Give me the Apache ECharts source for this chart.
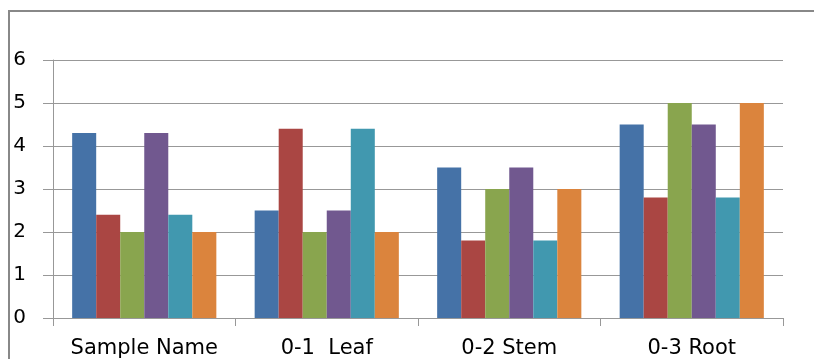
<!DOCTYPE html>
<html><head><meta charset="utf-8">
<script src="https://cdn.jsdelivr.net/npm/echarts@6/dist/echarts.min.js"></script>
<style>html,body{margin:0;padding:0;background:#fff}#c{width:814px;height:359px}</style>
</head><body><div id="c"></div>
<script>
const categories = ["Sample Name", "0-1  Leaf", "0-2 Stem", "0-3 Root"];
const s1 = [4.3, 2.5, 3.5, 4.5];
const s2 = [2.4, 4.4, 1.8, 2.8];
const s3 = [2.0, 2.0, 3.0, 5.0];
const s4 = [4.3, 2.5, 3.5, 4.5];
const s5 = [2.4, 4.4, 1.8, 2.8];
const s6 = [2.0, 2.0, 3.0, 5.0];
const yTicks = [0, 1, 2, 3, 4, 5, 6];

const colors = ["#4572A7", "#AA4643", "#89A54E", "#71588F", "#4198AF", "#DB843D"];
const seriesData = [s1, s2, s3, s4, s5, s6];
const chart = echarts.init(document.getElementById('c'));
chart.setOption({
  animation: false,
  grid: { left: 53, right: 31, top: 60, bottom: 41, containLabel: false },
  xAxis: {
    type: 'category', data: categories,
    axisLine: { lineStyle: { color: '#989898', width: 1 } },
    axisTick: { show: true, length: 8, interval: 0, lineStyle: { color: '#989898' } },
    axisLabel: { color: '#000', fontFamily: 'DejaVu Sans', fontSize: 21, margin: 20, interval: 0, hideOverlap: false }
  },
  yAxis: {
    type: 'value', min: yTicks[0], max: yTicks[yTicks.length - 1], interval: 1,
    axisLine: { show: true, lineStyle: { color: '#989898', width: 1 } },
    axisTick: { show: true, length: 10, lineStyle: { color: '#989898' } },
    splitLine: { lineStyle: { color: '#989898', width: 1 } },
    axisLabel: { color: '#000', fontFamily: 'DejaVu Sans', fontSize: 20, margin: 27 }
  },
  series: seriesData.map((d, i) => ({
    type: 'bar', data: d, barGap: '0%', barCategoryGap: '21%',
    itemStyle: { color: colors[i] }
  })),
  graphic: [
    { type: 'line', shape: { x1: 8, y1: 11, x2: 814, y2: 11 }, style: { stroke: '#888', lineWidth: 2 } },
    { type: 'line', shape: { x1: 9, y1: 11, x2: 9, y2: 359 }, style: { stroke: '#888', lineWidth: 2 } }
  ]
});
</script></body></html>
